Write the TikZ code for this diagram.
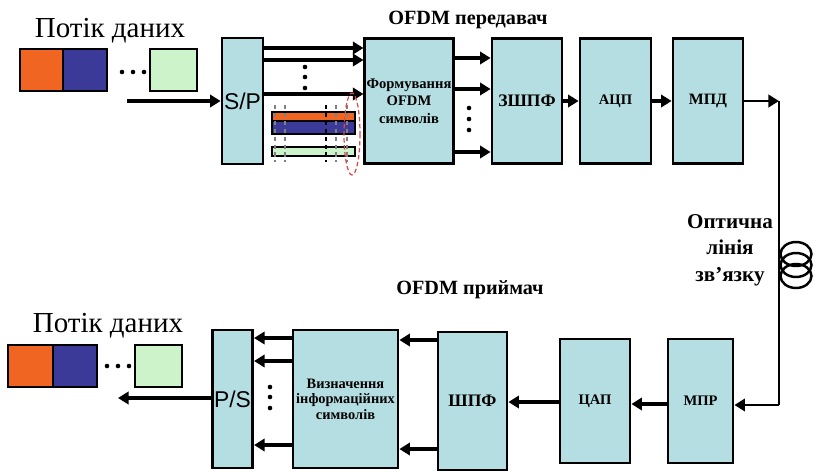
\documentclass[tikz,border=0pt]{standalone}
\usepackage{fontspec}
\setmainfont{Liberation Serif}
\newfontfamily\arialfont{Liberation Sans}
\usetikzlibrary{arrows.meta,positioning,calc}
\definecolor{blockfill}{HTML}{B5DEE2}
\definecolor{symorange}{HTML}{F06522}
\definecolor{symblue}{HTML}{3B3A98}
\definecolor{symgreen}{HTML}{CDF3CB}
\definecolor{markred}{HTML}{E04848}

\begin{document}
\begin{tikzpicture}[x=0.02cm, y=-0.02cm,
  block/.style={draw, line width=1.6pt, fill=blockfill, inner sep=1pt, align=center,
    font=\bfseries\fontsize{8.3}{10}\selectfont},
  conv/.style={font=\arialfont\fontsize{13}{13}\selectfont},
  bigtext/.style={font=\bfseries\fontsize{10}{12}\selectfont},
  arr/.style={line width=2pt, -{Triangle[length=6pt,width=7pt]}},
  fiber/.style={line width=1.6pt},
  cell/.style={draw, line width=1.6pt},
  bar/.style={draw, line width=0.6pt},
  title/.style={font=\bfseries\fontsize{11.5}{13}\selectfont},
  streamlabel/.style={font=\fontsize{16.5}{18}\selectfont}]
  \useasboundingbox (0,0) rectangle (817,471);

  % --- transmitter ---
  \node[streamlabel] (txlabel) at (110,31) {Потік даних};
  \draw[cell, fill=symorange] (20,49) rectangle (63,91);
  \draw[cell, fill=symblue] (63,49) rectangle (107,91);
  \draw[cell, fill=symgreen] (150,49) rectangle (197,91);
  \foreach \x in {122,133,144}
    \fill (\x,72) circle (2.3);

  \node[title] (txtitle) at (468,20) {OFDM передавач};
  \node[block, conv, minimum width=0.82cm, minimum height=2.52cm] (sp) at (242.5,101) {S/P};
  \node[block, minimum width=1.76cm, minimum height=2.5cm] (form) at (409,101) {Формування\\OFDM\\символів};
  \node[block, bigtext, minimum width=1.4cm, minimum height=2.5cm] (ifft) at (527,101) {ЗШПФ};
  \node[block, minimum width=1.42cm, minimum height=2.5cm] (adc) at (615.5,101) {АЦП};
  \node[block, font=\bfseries\fontsize{9}{10}\selectfont, minimum width=1.4cm, minimum height=2.5cm] (mpd) at (708,101) {МПД};

  \coordinate (txin) at (127,101);
  \draw[arr] (txin) -- (sp.west);
  \foreach \y in {48,60,94}
    \draw[arr] (sp.east |- 0,\y) -- (form.west |- 0,\y);
  \foreach \y in {67,77,88}
    \fill (305,\y) circle (2.3);
  \foreach \y in {58,89,152}
    \draw[arr] (form.east |- 0,\y) -- (ifft.west |- 0,\y);
  \foreach \y in {108,119,130}
    \fill (469,\y) circle (2.3);
  \draw[arr] (ifft) -- (adc);
  \draw[arr] (adc) -- (mpd);

  % subcarrier bars
  \draw[bar, fill=symorange] (272,112) rectangle (355,121);
  \draw[bar, fill=symblue] (272,121) rectangle (355,134);
  \draw[bar, fill=symgreen] (272,147) rectangle (355,156);
  \foreach \x in {275,285,336,347}
    \draw[gray, line width=0.7pt, dash pattern=on 2.5pt off 2pt] (\x,105) -- (\x,162);
  \draw[line width=0.7pt, dash pattern=on 2.5pt off 2pt] (326,105) -- (326,162);
  \draw[markred, line width=0.7pt, dash pattern=on 2.5pt off 1.5pt] (352,134) ellipse (8 and 41);

  % --- optical line ---
  \coordinate (fibtop) at (779,101);
  \coordinate (fibbot) at (779,405);
  \draw[fiber, -{Triangle[length=6pt,width=7pt]}] (mpd) -- (fibtop);
  \draw[fiber] (fibtop) -- (fibbot);
  \foreach \y in {254,265,276}
    \draw[line width=1.4pt] (796,\y) ellipse (15.5 and 12);
  \node[font=\bfseries\fontsize{12}{15}\selectfont, align=center] (fiberlabel) at (730,250) {Оптична\\лінія\\зв’язку};

  % --- receiver ---
  \node[title] (rxtitle) at (470,290) {OFDM приймач};
  \node[block, conv, minimum width=0.78cm, minimum height=2.76cm] (ps) at (232.5,399) {P/S};
  \node[block, font=\bfseries\fontsize{8.2}{8.8}\selectfont, minimum width=2.1cm, minimum height=2.76cm] (det) at (345.5,399) {Визначення\\інформаційних\\символів};
  \node[block, bigtext, minimum width=1.38cm, minimum height=2.76cm] (fft) at (472.5,401) {ШПФ};
  \node[block, minimum width=1.4cm, minimum height=2.48cm] (dac) at (595,401) {ЦАП};
  \node[block, minimum width=1.3cm, minimum height=2.48cm] (mpr) at (700.5,401) {МПР};

  \draw[fiber, -{Triangle[length=6pt,width=7pt]}] (fibbot) -- (mpr.east |- fibbot);
  \draw[arr] (mpr.west |- 0,404) -- (dac.east |- 0,404);
  \draw[arr] (dac.west |- 0,402) -- (fft.east |- 0,402);
  \foreach \y in {340,449}
    \draw[arr] (fft.west |- 0,\y) -- (det.east |- 0,\y);
  \foreach \y in {338,361,445}
    \draw[arr] (det.west |- 0,\y) -- (ps.east |- 0,\y);
  \foreach \y in {387,397,408}
    \fill (270,\y) circle (2.3);
  \coordinate (rxout) at (118,398);
  \draw[arr] (ps.west |- rxout) -- (rxout);

  \node[streamlabel] (rxlabel) at (108,326) {Потік даних};
  \draw[cell, fill=symorange] (8,345) rectangle (53,387);
  \draw[cell, fill=symblue] (53,345) rectangle (97,387);
  \draw[cell, fill=symgreen] (135,345) rectangle (182,387);
  \foreach \x in {107,118,129}
    \fill (\x,366) circle (2.3);
\end{tikzpicture}
\end{document}
